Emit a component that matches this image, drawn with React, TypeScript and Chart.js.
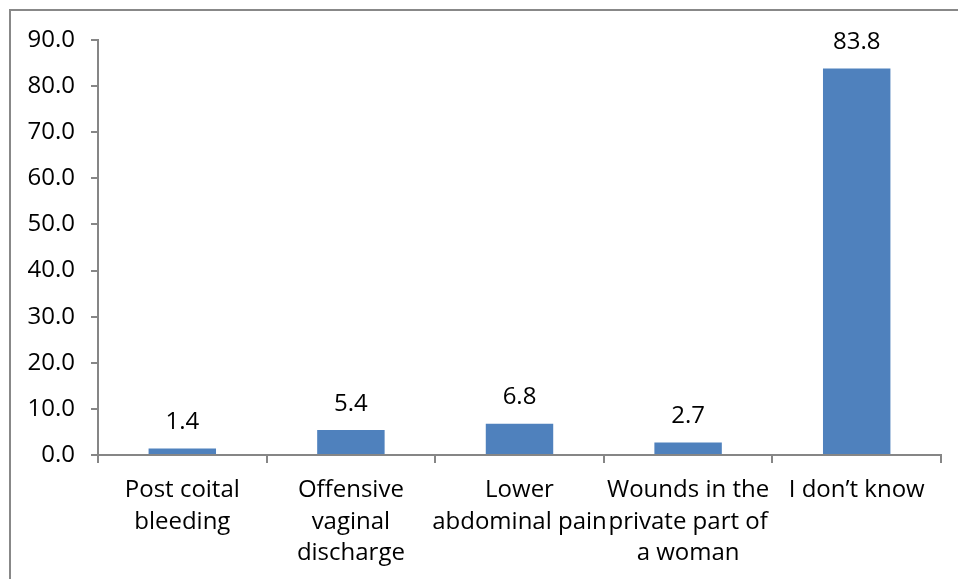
import React, { useEffect, useRef } from "react";
import { Chart, registerables } from "chart.js";

Chart.register(...registerables);

const categories: (string | string[])[] = [
  ["Post coital", "bleeding"],
  ["Offensive", "vaginal", "discharge"],
  ["Lower", "abdominal pain"],
  ["Wounds in the", "private part of", "a woman"],
  "I don\u2019t know",
];
const values = [1.4, 5.4, 6.8, 2.7, 83.8];
const yMin = 0;
const yMax = 90;
const yStep = 10;

const FONT = "'Open Sans', 'Noto Sans', sans-serif";
const AXIS_COLOR = "#868686";

const dataLabelPlugin = {
  id: "dataLabels",
  afterDatasetsDraw(chart: any) {
    const ctx = chart.ctx;
    const meta = chart.getDatasetMeta(0);
    ctx.save();
    ctx.font = `24px ${FONT}`;
    ctx.fillStyle = "#000";
    ctx.textAlign = "center";
    ctx.textBaseline = "middle";
    meta.data.forEach((el: any, i: number) => {
      ctx.fillText(values[i].toFixed(1), el.x, el.y - 26);
    });
    ctx.restore();
  },
};

export default function App() {
  const ref = useRef<HTMLCanvasElement | null>(null);
  useEffect(() => {
    if (!ref.current) return;
    const chart = new Chart(ref.current, {
      type: "bar",
      data: {
        labels: categories,
        datasets: [
          {
            data: values,
            backgroundColor: "#4F81BD",
            borderWidth: 0,
            barPercentage: 0.4,
            categoryPercentage: 1,
          },
        ],
      },
      options: {
        animation: false,
        responsive: false,
        maintainAspectRatio: false,
        layout: { padding: { left: 0, top: 40, right: 17, bottom: 0 } },
        plugins: {
          legend: { display: false },
          tooltip: { enabled: false },
        },
        scales: {
          x: {
            offset: true,
            grid: {
              offset: true,
              drawOnChartArea: false,
              drawTicks: true,
              tickLength: 8,
              color: AXIS_COLOR,
              lineWidth: 2,
            },
            border: { color: AXIS_COLOR, width: 2 },
            ticks: {
              color: "#000",
              font: { family: FONT, size: 24, lineHeight: 1.3 },
              padding: 12,
              maxRotation: 0,
              minRotation: 0,
              autoSkip: false,
            },
            afterFit(scale: any) {
              scale.height = 124;
            },
          },
          y: {
            min: yMin,
            max: yMax,
            grid: {
              drawOnChartArea: false,
              drawTicks: true,
              tickLength: 7,
              color: AXIS_COLOR,
              lineWidth: 2,
            },
            border: { color: AXIS_COLOR, width: 2 },
            ticks: {
              stepSize: yStep,
              color: "#000",
              font: { family: FONT, size: 24 },
              padding: 16,
              callback: (v: any) => Number(v).toFixed(1),
            },
            afterFit(scale: any) {
              scale.width = 98;
            },
          },
        },
      },
      plugins: [dataLabelPlugin],
    });
    return () => chart.destroy();
  }, []);

  return (
    <div
      style={{
        position: "fixed",
        left: 0,
        top: 0,
        width: 958,
        height: 579,
        background: "#fff",
        overflow: "hidden",
      }}
    >
      <div
        style={{
          position: "absolute",
          left: 9,
          top: 9,
          width: 1000,
          height: 1000,
          borderLeft: "2px solid #888",
          borderTop: "2px solid #888",
        }}
      />
      <canvas
        ref={ref}
        width={958}
        height={579}
        style={{ position: "absolute", left: 0, top: 0 }}
      />
    </div>
  );
}
